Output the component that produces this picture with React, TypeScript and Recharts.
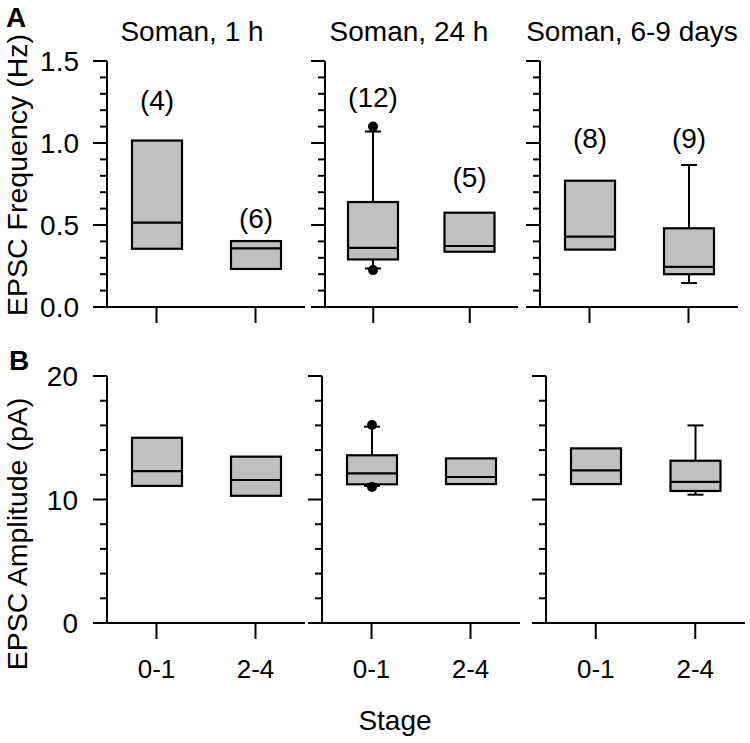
import React from "react";
import { ComposedChart, Bar, XAxis, YAxis } from "recharts";

const STAGES = ["0-1", "2-4"];
const PANEL_TITLES = ["Soman, 1 h", "Soman, 24 h", "Soman, 6-9 days"];

// number of cells printed above each box in A, and the level (Hz) the label sits at
const CELL_COUNTS = [[4, 6], [12, 5], [8, 9]];
const COUNT_LEVEL = [[1.26, 0.54], [1.28, 0.79], [1.03, 1.03]];

// A: EPSC frequency (Hz), one pair [0-1, 2-4] per panel
const FREQ_Q1 = [[0.355, 0.232], [0.29, 0.337], [0.35, 0.2]];
const FREQ_MEDIAN = [[0.515, 0.358], [0.36, 0.372], [0.429, 0.245]];
const FREQ_Q3 = [[1.015, 0.402], [0.64, 0.575], [0.77, 0.48]];
const FREQ_LOW = [[null, null], [0.235, null], [null, 0.146]];
const FREQ_HIGH = [[null, null], [1.07, null], [null, 0.866]];
const FREQ_OUTLIERS = [[[], []], [[1.1, 0.225], []], [[], []]];

// B: EPSC amplitude (pA)
const AMP_Q1 = [[11.1, 10.3], [11.23, 11.25], [11.25, 10.69]];
const AMP_MEDIAN = [[12.3, 11.58], [12.12, 11.82], [12.36, 11.42]];
const AMP_Q3 = [[15.0, 13.47], [13.58, 13.33], [14.14, 13.14]];
const AMP_LOW = [[null, null], [11.1, null], [null, 10.39]];
const AMP_HIGH = [[null, null], [15.9, null], [null, 16.0]];
const AMP_OUTLIERS = [[[], []], [[16.03, 11.02], []], [[], []]];

const FREQ_TICKS = [0, 0.1, 0.2, 0.3, 0.4, 0.5, 0.6, 0.7, 0.8, 0.9, 1.0, 1.1, 1.2, 1.3, 1.4, 1.5];
const FREQ_MAJOR = [0, 0.5, 1.0, 1.5];
const AMP_TICKS = [0, 2, 4, 6, 8, 10, 12, 14, 16, 18, 20];
const AMP_MAJOR = [0, 10, 20];

const W = 750;
const H = 743;
const FONT = "'Liberation Sans', Arial, Helvetica, sans-serif";
const BOX_FILL = "#c0c0c0";

const TOP_ROW = { top: 61, bottom: 307, lefts: [107, 325, 540], rights: [305, 518, 738] };
const BOTTOM_ROW = { top: 376, bottom: 623, lefts: [107, 322, 546], rights: [305, 520, 745] };

type BoxRow = {
  stage: string;
  q1: number;
  median: number;
  q3: number;
  low: number | null;
  high: number | null;
  outliers: number[];
  n: number | null;
  nAt: number | null;
};

function buildRows(
  panel: number,
  q1: number[][],
  med: number[][],
  q3: number[][],
  low: (number | null)[][],
  high: (number | null)[][],
  outl: number[][][],
  counts: number[][] | null,
  levels: number[][] | null
): BoxRow[] {
  return STAGES.map((stage, i) => ({
    stage,
    q1: q1[panel][i],
    median: med[panel][i],
    q3: q3[panel][i],
    low: low[panel][i],
    high: high[panel][i],
    outliers: outl[panel][i],
    n: counts ? counts[panel][i] : null,
    nAt: levels ? levels[panel][i] : null,
  }));
}

const BoxShape = (props: any) => {
  const { x, y, width, height } = props;
  const d: BoxRow = props.payload ?? props;
  const top = Math.min(y, y + height);
  const h = Math.abs(height);
  const ppu = h / (d.q3 - d.q1);
  const yOf = (v: number) => top + (d.q3 - v) * ppu;
  const cx = x + width / 2;
  const cap = 8;
  return (
    <g>
      {d.high != null && (
        <g stroke="#000" strokeWidth={2}>
          <line x1={cx} x2={cx} y1={top} y2={yOf(d.high)} />
          <line x1={cx - cap} x2={cx + cap} y1={yOf(d.high)} y2={yOf(d.high)} />
        </g>
      )}
      {d.low != null && (
        <g stroke="#000" strokeWidth={2}>
          <line x1={cx} x2={cx} y1={top + h} y2={yOf(d.low)} />
          <line x1={cx - cap} x2={cx + cap} y1={yOf(d.low)} y2={yOf(d.low)} />
        </g>
      )}
      <rect x={x} y={top} width={width} height={h} fill={BOX_FILL} stroke="#000" strokeWidth={2.2} />
      <line x1={x} x2={x + width} y1={yOf(d.median)} y2={yOf(d.median)} stroke="#000" strokeWidth={2.2} />
      {d.outliers.map((v, i) => (
        <circle key={i} cx={cx} cy={yOf(v)} r={5} fill="#000" />
      ))}
      {d.n != null && d.nAt != null && (
        <text
          x={cx}
          y={yOf(d.nAt) + 10}
          textAnchor="middle"
          fontSize={28}
          fontFamily={FONT}
          fill="#000"
        >
          ({d.n})
        </text>
      )}
    </g>
  );
};

const near = (a: number, list: number[]) => list.some((b) => Math.abs(a - b) < 1e-6);

const YTick = (props: any) => {
  const { x, y, payload, major, showLabel, labelGap, digits } = props;
  const isMajor = near(payload.value, major);
  const len = isMajor ? 14 : 7;
  return (
    <g>
      <line x1={x - len} x2={x} y1={y} y2={y} stroke="#000" strokeWidth={2} />
      {showLabel && isMajor && (
        <text
          x={x - labelGap}
          y={y + 10}
          textAnchor="end"
          fontSize={28}
          fontFamily={FONT}
          fill="#000"
        >
          {payload.value.toFixed(digits)}
        </text>
      )}
    </g>
  );
};

const XTick = (props: any) => {
  const { x, y, payload, showLabel } = props;
  return (
    <g>
      <line x1={x} x2={x} y1={y} y2={y + 16} stroke="#000" strokeWidth={2} />
      {showLabel && (
        <text x={x} y={y + 55} textAnchor="middle" fontSize={26} fontFamily={FONT} fill="#000">
          {payload.value}
        </text>
      )}
    </g>
  );
};

type PanelProps = {
  rows: BoxRow[];
  row: typeof TOP_ROW;
  col: number;
  domain: [number, number];
  ticks: number[];
  major: number[];
  digits: number;
  labelGap: number;
  showXLabels: boolean;
};

const Panel = ({ rows, row, col, domain, ticks, major, digits, labelGap, showXLabels }: PanelProps) => {
  const yAxisW = 60;
  const xAxisH = 40;
  const left = row.lefts[col];
  const right = row.rights[col];
  return (
    <div style={{ position: "absolute", left: 0, top: 0 }}>
      <ComposedChart
        width={W}
        height={H}
        data={rows}
        margin={{
          top: row.top,
          left: left - yAxisW,
          right: W - right,
          bottom: H - row.bottom - xAxisH,
        }}
      >
        <XAxis
          dataKey="stage"
          type="category"
          height={xAxisH}
          interval={0}
          tickSize={0}
          tickMargin={0}
          tickLine={false}
          axisLine={{ stroke: "#000", strokeWidth: 2 }}
          tick={(p: any) => <XTick {...p} showLabel={showXLabels} />}
        />
        <YAxis
          type="number"
          domain={domain}
          ticks={ticks}
          interval={0}
          width={yAxisW}
          tickSize={0}
          tickMargin={0}
          tickLine={false}
          axisLine={{ stroke: "#000", strokeWidth: 2 }}
          tick={(p: any) => (
            <YTick {...p} major={major} showLabel={col === 0} labelGap={labelGap} digits={digits} />
          )}
        />
        <Bar
          dataKey={(d: BoxRow) => [d.q1, d.q3]}
          barSize={50}
          shape={<BoxShape />}
          isAnimationActive={false}
        />
      </ComposedChart>
    </div>
  );
};

const App = () => {
  const cols = [0, 1, 2];
  return (
    <div style={{ position: "absolute", left: 0, top: 0, width: W, height: H, background: "#fff", fontFamily: FONT }}>
      {cols.map((c) => (
        <Panel
          key={`f${c}`}
          rows={buildRows(c, FREQ_Q1, FREQ_MEDIAN, FREQ_Q3, FREQ_LOW, FREQ_HIGH, FREQ_OUTLIERS, CELL_COUNTS, COUNT_LEVEL)}
          row={TOP_ROW}
          col={c}
          domain={[0, 1.5]}
          ticks={FREQ_TICKS}
          major={FREQ_MAJOR}
          digits={1}
          labelGap={28}
          showXLabels={false}
        />
      ))}
      {cols.map((c) => (
        <Panel
          key={`a${c}`}
          rows={buildRows(c, AMP_Q1, AMP_MEDIAN, AMP_Q3, AMP_LOW, AMP_HIGH, AMP_OUTLIERS, null, null)}
          row={BOTTOM_ROW}
          col={c}
          domain={[0, 20]}
          ticks={AMP_TICKS}
          major={AMP_MAJOR}
          digits={0}
          labelGap={29}
          showXLabels={true}
        />
      ))}
      <svg width={W} height={H} style={{ position: "absolute", left: 0, top: 0, pointerEvents: "none" }}>
        <g fontFamily={FONT} fill="#000">
          <text x={6} y={27} fontSize={28} fontWeight="bold">A</text>
          <text x={9} y={370} fontSize={28} fontWeight="bold">B</text>
          {PANEL_TITLES.map((t, i) => (
            <text key={t} x={[192, 409, 632][i]} y={41} fontSize={28} textAnchor="middle">
              {t}
            </text>
          ))}
          <text x={27} y={175} fontSize={28.5} textAnchor="middle" transform="rotate(-90 27 175)">
            EPSC Frequency (Hz)
          </text>
          <text x={27} y={534} fontSize={28.5} textAnchor="middle" transform="rotate(-90 27 534)">
            EPSC Amplitude (pA)
          </text>
          <text x={395} y={730} fontSize={28} textAnchor="middle">
            Stage
          </text>
        </g>
      </svg>
    </div>
  );
};

export default App;
